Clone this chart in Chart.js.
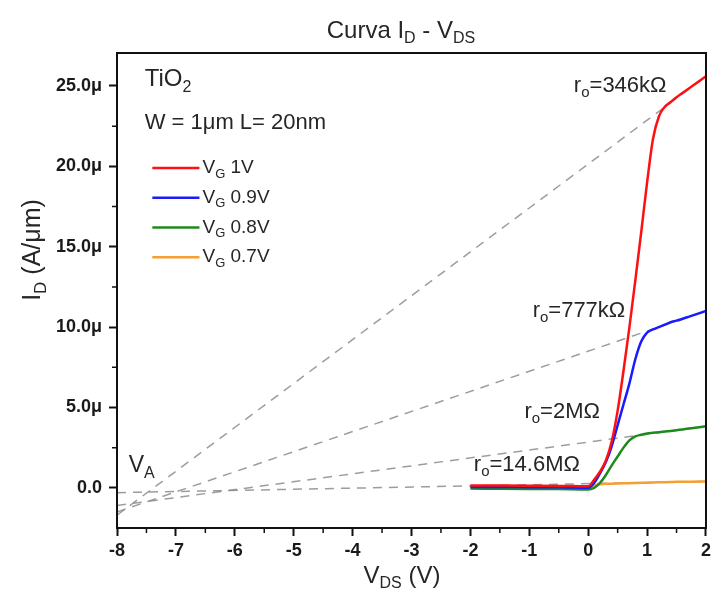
<!DOCTYPE html>
<html>
<head>
<meta charset="utf-8">
<script src="https://cdn.jsdelivr.net/npm/chart.js@4.4.1/dist/chart.umd.min.js"></script>
<style>
  html, body { margin: 0; padding: 0; background: #fff; }
  #wrap { width: 715px; height: 597px; position: relative; }
</style>
</head>
<body>
<div id="wrap"><canvas id="chart"></canvas></div>
<script>
// I_D - V_DS curves (I_D in uA/um)
const vds = [-2, -1.5, -1, -0.5, 0, 0.1, 0.2, 0.3, 0.4, 0.5, 0.6, 0.7, 0.8, 0.9, 1.0, 1.1, 1.2, 1.3, 1.4, 1.5, 1.75, 2.0];
const idVg10 = [0.15, 0.14, 0.13, 0.12, 0.1, 0.5, 1.0, 1.7, 2.9, 4.8, 7.3, 10.0, 12.9, 15.9, 19.0, 21.7, 23.1, 23.7, 24.0, 24.3, 24.95, 25.6];
const idVg09 = [0.05, 0.05, 0.04, 0.03, 0.0, 0.3, 0.9, 1.6, 2.6, 3.9, 5.2, 6.5, 8.0, 9.1, 9.65, 9.85, 10.0, 10.15, 10.3, 10.4, 10.7, 11.0];
const idVg08 = [-0.05, -0.06, -0.07, -0.08, -0.1, 0.0, 0.3, 0.8, 1.4, 1.95, 2.5, 2.95, 3.2, 3.3, 3.38, 3.42, 3.46, 3.5, 3.54, 3.58, 3.7, 3.83];
const idVg07 = [0.05, 0.05, 0.05, 0.05, 0.05, 0.15, 0.22, 0.25, 0.26, 0.27, 0.28, 0.29, 0.3, 0.31, 0.32, 0.33, 0.34, 0.35, 0.36, 0.37, 0.38, 0.4];

// output resistance fit lines (extrapolated to V_A)
const fitVds = [-8, 2];
const fitVg10 = [-1.7, 25.6];
const fitVg09 = [-1.5, 11.0];
const fitVg08 = [-1.1, 3.83];
const fitVg07 = [-0.3, 0.4];

const legendLabels = ['1V', '0.9V', '0.8V', '0.7V'];
const roLabels = ['346k\u03A9', '777k\u03A9', '2M\u03A9', '14.6M\u03A9'];
const xTicks = [-8, -7, -6, -5, -4, -3, -2, -1, 0, 1, 2];
const yTicks = [0, 5, 10, 15, 20, 25];
const xMinor = [-7.5, -6.5, -5.5, -4.5, -3.5, -2.5, -1.5, -0.5, 0.5, 1.5];
const yMinor = [2.5, 7.5, 12.5, 17.5, 22.5];

const colors = ['#ff1010', '#1a1aff', '#1e8a1e', '#f5a030'];
const FONT = '"Liberation Sans", Arial, sans-serif';

const pts = (xs, ys) => xs.map((x, i) => ({ x: x, y: ys[i] }));

// text with subscripts: parts = [[text, isSub], ...]
function rich(ctx, parts, x, y, size, align) {
  const subSize = Math.round(size * 0.68);
  let w = 0;
  const widths = parts.map(p => {
    ctx.font = (p[1] ? subSize : size) + 'px ' + FONT;
    const m = ctx.measureText(p[0]).width;
    w += m;
    return m;
  });
  let sx = align === 'center' ? x - w / 2 : align === 'right' ? x - w : x;
  ctx.save();
  ctx.textAlign = 'left';
  ctx.textBaseline = 'middle';
  ctx.fillStyle = '#262626';
  parts.forEach((p, i) => {
    ctx.font = (p[1] ? subSize : size) + 'px ' + FONT;
    ctx.fillText(p[0], sx, p[1] ? y + size * 0.32 : y);
    sx += widths[i];
  });
  ctx.restore();
}

const decor = {
  id: 'decor',
  afterDatasetsDraw(chart) {
    const ctx = chart.ctx;
    const a = chart.chartArea;
    const xs = chart.scales.x, ys = chart.scales.y;
    ctx.save();
    // frame
    ctx.strokeStyle = '#111';
    ctx.lineWidth = 2;
    ctx.strokeRect(a.left, a.top, a.right - a.left, a.bottom - a.top);
    // minor ticks
    ctx.lineWidth = 1.5;
    ctx.beginPath();
    xMinor.forEach(v => {
      const px = xs.getPixelForValue(v);
      ctx.moveTo(px, a.bottom);
      ctx.lineTo(px, a.bottom + 5);
    });
    yMinor.forEach(v => {
      const py = ys.getPixelForValue(v);
      ctx.moveTo(a.left, py);
      ctx.lineTo(a.left - 5, py);
    });
    ctx.stroke();

    // legend
    legendLabels.forEach((lab, i) => {
      const py = ys.getPixelForValue(19.9 - i * 1.85);
      const x0 = xs.getPixelForValue(-7.4), x1 = xs.getPixelForValue(-6.6);
      ctx.strokeStyle = colors[i];
      ctx.lineWidth = 2.5;
      ctx.beginPath();
      ctx.moveTo(x0, py);
      ctx.lineTo(x1, py);
      ctx.stroke();
      rich(ctx, [['V', false], ['G', true], [' ' + lab, false]], x1 + 3, py, 19, 'left');
    });

    // header text
    rich(ctx, [['TiO', false], ['2', true]], xs.getPixelForValue(-7.53), ys.getPixelForValue(25.4), 24, 'left');
    rich(ctx, [['W = 1\u03BCm L= 20nm', false]], xs.getPixelForValue(-7.53), ys.getPixelForValue(22.7), 22, 'left');

    // r_o annotations
    const roPos = [[1.33, 25.0], [0.63, 11.0], [0.2, 4.75], [-0.14, 1.45]];
    roLabels.forEach((lab, i) => {
      const p = roPos[i];
      rich(ctx, [['r', false], ['o', true], ['=' + lab, false]], xs.getPixelForValue(p[0]), ys.getPixelForValue(p[1]), 22, 'right');
    });
    rich(ctx, [['V', false], ['A', true]], xs.getPixelForValue(-7.8), ys.getPixelForValue(1.35), 23, 'left');
    ctx.restore();
  },
  afterDraw(chart) {
    const ctx = chart.ctx;
    rich(ctx, [['Curva I', false], ['D', true], [' - V', false], ['DS', true]], 401, 31, 24, 'center');
    rich(ctx, [['V', false], ['DS', true], [' (V)', false]], 402, 576, 24, 'center');
    ctx.save();
    ctx.translate(33, 250);
    ctx.rotate(-Math.PI / 2);
    rich(ctx, [['I', false], ['D', true], [' (A/\u03BCm)', false]], 0, 0, 25, 'center');
    ctx.restore();
  }
};

const curve = (data, i) => ({
  data: data,
  borderColor: colors[i],
  borderWidth: 2.5,
  pointRadius: 0,
  showLine: true,
  fill: false,
  cubicInterpolationMode: 'monotone',
  order: i
});

const fit = (data) => ({
  data: data,
  borderColor: 'rgba(140,140,140,0.85)',
  borderWidth: 1.5,
  borderDash: [9, 7],
  pointRadius: 0,
  showLine: true,
  fill: false,
  order: 10
});

new Chart(document.getElementById('chart'), {
  type: 'scatter',
  data: {
    datasets: [
      curve(pts(vds, idVg10), 0),
      curve(pts(vds, idVg09), 1),
      curve(pts(vds, idVg08), 2),
      curve(pts(vds, idVg07), 3),
      fit(pts(fitVds, fitVg10)),
      fit(pts(fitVds, fitVg09)),
      fit(pts(fitVds, fitVg08)),
      fit(pts(fitVds, fitVg07))
    ]
  },
  options: {
    responsive: true,
    maintainAspectRatio: false,
    animation: false,
    layout: { padding: { left: 0, right: 9, top: 53, bottom: 0 } },
    plugins: { legend: { display: false }, tooltip: { enabled: false } },
    scales: {
      x: {
        type: 'linear',
        min: -8,
        max: 2,
        afterBuildTicks: s => { s.ticks = xTicks.map(v => ({ value: v })); },
        afterFit: s => { s.height = 69; },
        grid: { drawOnChartArea: false, tickLength: 8, tickWidth: 2, tickColor: '#111' },
        border: { display: false },
        ticks: { color: '#1a1a1a', padding: 4, maxRotation: 0, font: { family: FONT, size: 18, weight: 'bold' } }
      },
      y: {
        type: 'linear',
        min: -2.5,
        max: 27.05,
        afterBuildTicks: s => { s.ticks = yTicks.map(v => ({ value: v })); },
        afterFit: s => { s.width = 117; },
        grid: { drawOnChartArea: false, tickLength: 8, tickWidth: 2, tickColor: '#111' },
        border: { display: false },
        ticks: {
          color: '#1a1a1a', padding: 7,
          font: { family: FONT, size: 18, weight: 'bold' },
          callback: v => v === 0 ? '0.0' : v.toFixed(1) + '\u03BC'
        }
      }
    }
  },
  plugins: [decor]
});
</script>
</body>
</html>
